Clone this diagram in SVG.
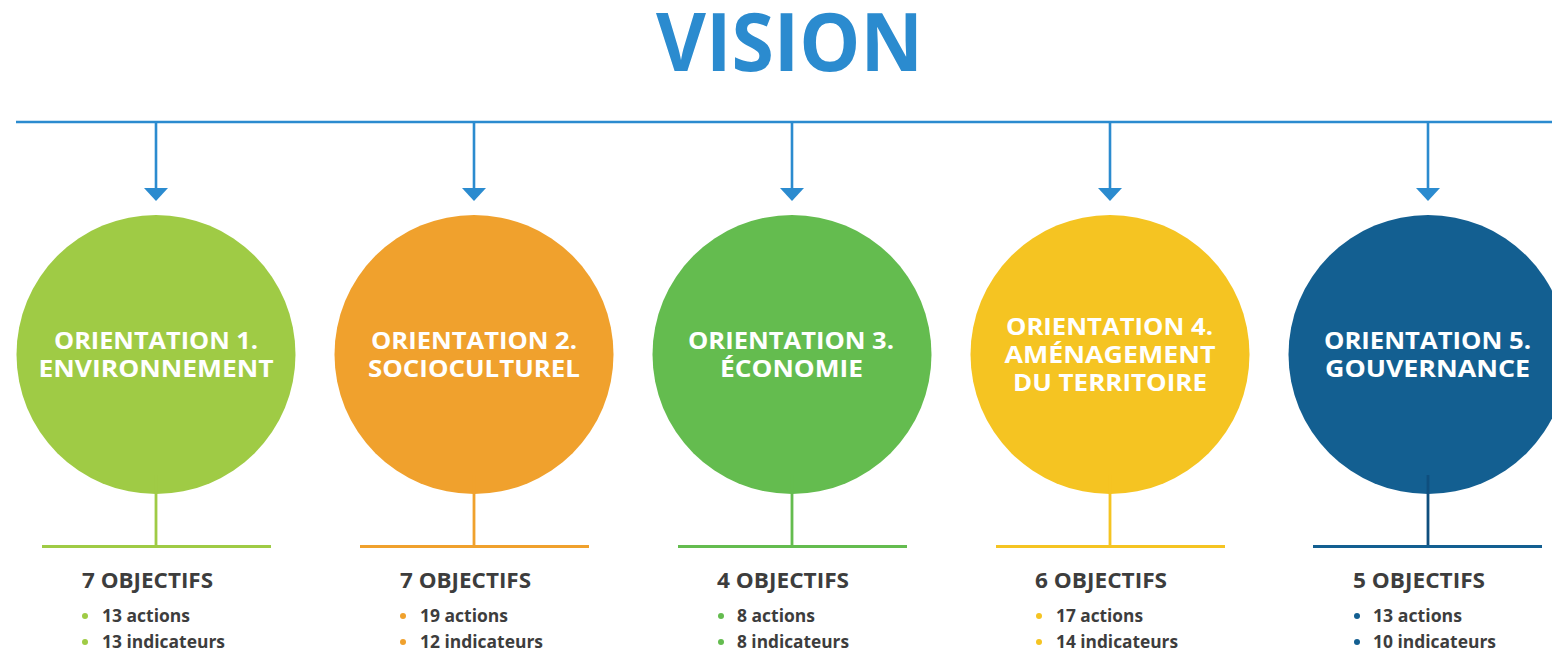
<svg xmlns="http://www.w3.org/2000/svg" width="1552" height="652" viewBox="0 0 1552 652">
<style>
text{font-family:"Open Sans","Liberation Sans",sans-serif;font-weight:700}
.title{font-size:80px;fill:#2b8bcf}
.lbl{font-size:23px;fill:#ffffff;text-anchor:middle}
.obj{font-size:21px;fill:#3d3d3d}
.itm{font-size:17.5px;fill:#3d3d3d}
.conn{stroke:#2b8bcf;stroke-width:2.6;fill:none}
.bar{stroke-width:2.8;fill:none}
</style>
<defs>
<marker id="ah" markerUnits="userSpaceOnUse" markerWidth="13" markerHeight="24" viewBox="0 -12 13 24" refX="0" refY="0" orient="auto">
<path d="M0,-12 L13,0 L0,12 Z" fill="#2b8bcf"/>
</marker>
</defs>
<rect width="1552" height="652" fill="#ffffff"/>
<text class="title" x="656" y="71" textLength="267" lengthAdjust="spacingAndGlyphs">VISION</text>
<g id="connectors">
<line class="conn" x1="16" y1="122" x2="1552" y2="122"/>
<line class="conn" x1="156" y1="121" x2="156" y2="188" marker-end="url(#ah)"/>
<line class="conn" x1="474" y1="121" x2="474" y2="188" marker-end="url(#ah)"/>
<line class="conn" x1="792" y1="121" x2="792" y2="188" marker-end="url(#ah)"/>
<line class="conn" x1="1110" y1="121" x2="1110" y2="188" marker-end="url(#ah)"/>
<line class="conn" x1="1428" y1="121" x2="1428" y2="188" marker-end="url(#ah)"/>
</g>
<g id="node1">
<circle cx="156" cy="354.5" r="139.5" fill="#9fcb45"/>
<text class="lbl" x="156" y="349" textLength="204" lengthAdjust="spacingAndGlyphs">ORIENTATION 1.</text>
<text class="lbl" x="156" y="377" textLength="235" lengthAdjust="spacingAndGlyphs">ENVIRONNEMENT</text>
<line class="bar" stroke="#9fcb45" x1="156" y1="475" x2="156" y2="546"/>
<line class="bar" stroke="#9fcb45" x1="42" y1="546.5" x2="271" y2="546.5"/>
<text class="obj" x="82" y="588" textLength="131" lengthAdjust="spacingAndGlyphs">7 OBJECTIFS</text>
<circle cx="85" cy="616" r="3" fill="#9fcb45"/>
<circle cx="85" cy="642" r="3" fill="#9fcb45"/>
<text class="itm" x="102" y="622" textLength="88" lengthAdjust="spacingAndGlyphs">13 actions</text>
<text class="itm" x="102" y="648" textLength="123" lengthAdjust="spacingAndGlyphs">13 indicateurs</text>
</g>
<g id="node2">
<circle cx="474" cy="354.5" r="139.5" fill="#f0a12d"/>
<text class="lbl" x="474" y="349" textLength="206" lengthAdjust="spacingAndGlyphs">ORIENTATION 2.</text>
<text class="lbl" x="474" y="377" textLength="212" lengthAdjust="spacingAndGlyphs">SOCIOCULTUREL</text>
<line class="bar" stroke="#f0a12d" x1="474" y1="475" x2="474" y2="546"/>
<line class="bar" stroke="#f0a12d" x1="360" y1="546.5" x2="589" y2="546.5"/>
<text class="obj" x="400" y="588" textLength="131" lengthAdjust="spacingAndGlyphs">7 OBJECTIFS</text>
<circle cx="403" cy="616" r="3" fill="#f0a12d"/>
<circle cx="403" cy="642" r="3" fill="#f0a12d"/>
<text class="itm" x="420" y="622" textLength="88" lengthAdjust="spacingAndGlyphs">19 actions</text>
<text class="itm" x="420" y="648" textLength="123" lengthAdjust="spacingAndGlyphs">12 indicateurs</text>
</g>
<g id="node3">
<circle cx="792" cy="354.5" r="139.5" fill="#64bc4f"/>
<text class="lbl" x="791" y="349" textLength="206" lengthAdjust="spacingAndGlyphs">ORIENTATION 3.</text>
<text class="lbl" x="791.5" y="377" textLength="143" lengthAdjust="spacingAndGlyphs">ÉCONOMIE</text>
<line class="bar" stroke="#64bc4f" x1="792" y1="475" x2="792" y2="546"/>
<line class="bar" stroke="#64bc4f" x1="678" y1="546.5" x2="907" y2="546.5"/>
<text class="obj" x="717" y="588" textLength="132" lengthAdjust="spacingAndGlyphs">4 OBJECTIFS</text>
<circle cx="721" cy="616" r="3" fill="#64bc4f"/>
<circle cx="721" cy="642" r="3" fill="#64bc4f"/>
<text class="itm" x="737" y="622" textLength="78" lengthAdjust="spacingAndGlyphs">8 actions</text>
<text class="itm" x="737" y="648" textLength="112" lengthAdjust="spacingAndGlyphs">8 indicateurs</text>
</g>
<g id="node4">
<circle cx="1110" cy="354.5" r="139.5" fill="#f5c422"/>
<text class="lbl" x="1109.5" y="335" textLength="207" lengthAdjust="spacingAndGlyphs">ORIENTATION 4.</text>
<text class="lbl" x="1110" y="363" textLength="211" lengthAdjust="spacingAndGlyphs">AMÉNAGEMENT</text>
<text class="lbl" x="1110" y="391" textLength="194" lengthAdjust="spacingAndGlyphs">DU TERRITOIRE</text>
<line class="bar" stroke="#f5c422" x1="1110" y1="475" x2="1110" y2="546"/>
<line class="bar" stroke="#f5c422" x1="996" y1="546.5" x2="1225" y2="546.5"/>
<text class="obj" x="1035" y="588" textLength="132" lengthAdjust="spacingAndGlyphs">6 OBJECTIFS</text>
<circle cx="1039" cy="616" r="3" fill="#f5c422"/>
<circle cx="1039" cy="642" r="3" fill="#f5c422"/>
<text class="itm" x="1056" y="622" textLength="87" lengthAdjust="spacingAndGlyphs">17 actions</text>
<text class="itm" x="1056" y="648" textLength="122" lengthAdjust="spacingAndGlyphs">14 indicateurs</text>
</g>
<g id="node5">
<circle cx="1428" cy="354.5" r="139.5" fill="#135f91"/>
<text class="lbl" x="1427.5" y="349" textLength="207" lengthAdjust="spacingAndGlyphs">ORIENTATION 5.</text>
<text class="lbl" x="1427.5" y="377" textLength="205" lengthAdjust="spacingAndGlyphs">GOUVERNANCE</text>
<line class="bar" stroke="#0f4f7e" x1="1428" y1="475" x2="1428" y2="546"/>
<line class="bar" stroke="#135f91" x1="1313" y1="546.5" x2="1542" y2="546.5"/>
<text class="obj" x="1353" y="588" textLength="132" lengthAdjust="spacingAndGlyphs">5 OBJECTIFS</text>
<circle cx="1357" cy="616" r="3" fill="#135f91"/>
<circle cx="1357" cy="642" r="3" fill="#135f91"/>
<text class="itm" x="1373" y="622" textLength="89" lengthAdjust="spacingAndGlyphs">13 actions</text>
<text class="itm" x="1373" y="648" textLength="123" lengthAdjust="spacingAndGlyphs">10 indicateurs</text>
</g>
</svg>
